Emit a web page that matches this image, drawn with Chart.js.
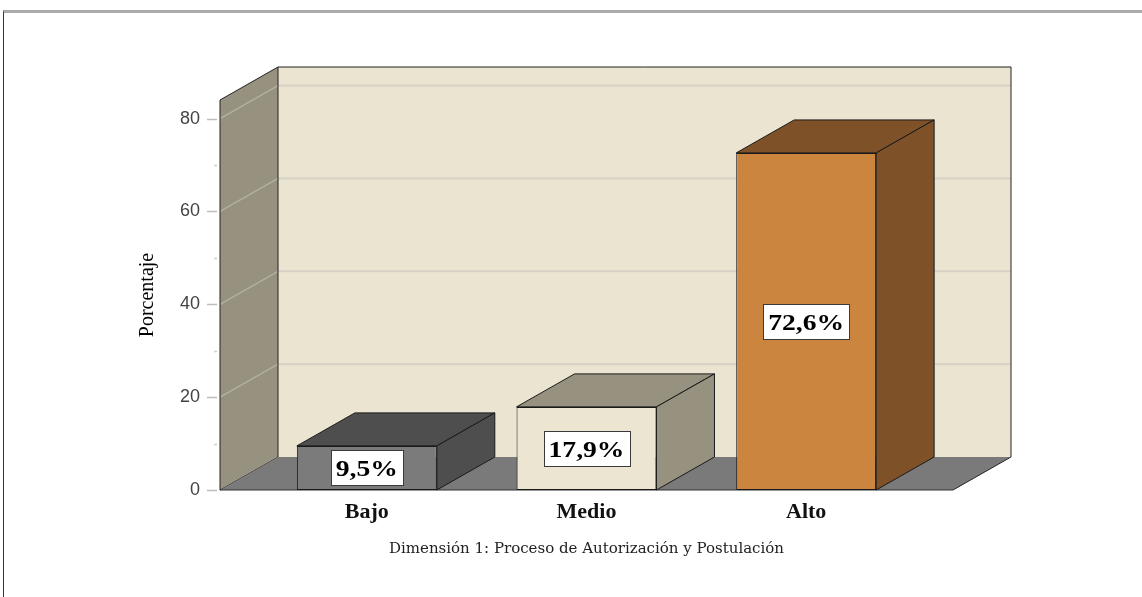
<!DOCTYPE html>
<html>
<head>
<meta charset="utf-8">
<script src="https://cdn.jsdelivr.net/npm/chart.js@4.4.0/dist/chart.umd.min.js"></script>
<style>
  body{margin:0;background:#fff;}
  #wrap{position:relative;width:1142px;height:597px;overflow:hidden;}
  #grafico{position:absolute;left:0;top:0;}
  #marco{position:absolute;left:3px;top:10px;right:-4px;bottom:-4px;border-top:3px solid #ababab;border-left:1px solid #333;}
</style>
</head>
<body>
<div id="wrap">
  <canvas id="grafico" width="1142" height="597"></canvas>
  <div id="marco"></div>
</div>
<script>
// --- DATOS ---
const categorias = ["Bajo", "Medio", "Alto"];
const porcentajes = [9.5, 17.9, 72.6];
const ticksMayores = [0, 20, 40, 60, 80];
const ticksMenores = [10, 30, 50, 70];

// colores (frente / cara superior y lateral)
const coloresFrente = ["#7b7b7b", "#ece5d2", "#cc853f"];
const coloresLado = ["#4e4e4e", "#96927f", "#7e5128"];

// --- GEOMETRIA 3D ---
const PX = 58, PY = -33;   // profundidad
const MARGEN = 37;         // suelo y paredes fuera del area
const ESTIRAR = 1.15;      // ancho de las etiquetas de valor

function poligono(ctx, pts, relleno, borde){
  ctx.beginPath();
  ctx.moveTo(pts[0][0], pts[0][1]);
  for(let i=1;i<pts.length;i++) ctx.lineTo(pts[i][0], pts[i][1]);
  ctx.closePath();
  if(relleno){ ctx.fillStyle = relleno; ctx.fill(); }
  if(borde){ ctx.strokeStyle = borde; ctx.stroke(); }
}

function linea(ctx, x1, y1, x2, y2, color, ancho){
  ctx.beginPath();
  ctx.moveTo(x1, y1);
  ctx.lineTo(x2, y2);
  ctx.strokeStyle = color;
  ctx.lineWidth = ancho;
  ctx.stroke();
}

function formato(v){
  return v.toFixed(1).replace(".", ",") + "%";
}

// --- PLUGIN: paredes, suelo y caras 3D ---
const escena3d = {
  id: "escena3d",
  beforeDatasetsDraw(chart){
    const {ctx, chartArea:a, scales:{y}} = chart;
    const x0 = a.left - MARGEN, x1 = a.right + MARGEN;
    const yb = y.getPixelForValue(0), yt = y.getPixelForValue(y.max);
    ctx.save();
    ctx.lineWidth = 1;

    // pared del fondo
    poligono(ctx, [[x0+PX,yt+PY],[x1+PX,yt+PY],[x1+PX,yb+PY],[x0+PX,yb+PY]], "#ebe4d1", null);
    ticksMayores.forEach(v=>{
      if(v===0) return;
      const py = y.getPixelForValue(v);
      linea(ctx, x0+PX, py+PY, x1+PX, py+PY, "#d6d1c4", 2);
    });
    ctx.lineWidth = 1;
    linea(ctx, x0+PX, yt+PY, x1+PX, yt+PY, "#222", 1);
    linea(ctx, x1+PX, yt+PY, x1+PX, yb+PY, "#222", 1);

    // pared izquierda
    poligono(ctx, [[x0,yt],[x0+PX,yt+PY],[x0+PX,yb+PY],[x0,yb]], "#96927f", null);
    ticksMayores.forEach(v=>{
      const py = y.getPixelForValue(v);
      linea(ctx, x0, py, x0+PX, py+PY, "#b3b0a2", 1.5);
    });
    ctx.lineWidth = 1;
    poligono(ctx, [[x0,yt],[x0+PX,yt+PY],[x0+PX,yb+PY],[x0,yb]], null, "#222");

    // suelo
    poligono(ctx, [[x0,yb],[x1,yb],[x1+PX,yb+PY],[x0+PX,yb+PY]], "#7a7a7a", null);
    linea(ctx, x0, yb, x1, yb, "#333", 1);
    linea(ctx, x1, yb, x1+PX, yb+PY, "#222", 1);

    // marcas del eje
    ticksMayores.forEach(v=>{
      const py = Math.round(y.getPixelForValue(v)) + 0.5;
      linea(ctx, x0-13, py, x0-3, py, "#bdbdbd", 1.5);
    });
    ticksMenores.forEach(v=>{
      const py = Math.round(y.getPixelForValue(v)) + 0.5;
      linea(ctx, x0-6, py, x0-3, py, "#cfcfcf", 1.5);
    });
    ctx.restore();
  },
  afterDatasetsDraw(chart){
    const {ctx} = chart;
    const meta = chart.getDatasetMeta(0);
    ctx.save();
    ctx.lineWidth = 1;
    meta.data.forEach((barra, i)=>{
      const {x, y:arriba, base, width} = barra.getProps(["x","y","base","width"], true);
      const l = x - width/2, r = x + width/2;
      // cara superior y lateral
      poligono(ctx, [[l,arriba],[r,arriba],[r+PX,arriba+PY],[l+PX,arriba+PY]], coloresLado[i], "#1a1a1a");
      poligono(ctx, [[r,arriba],[r+PX,arriba+PY],[r+PX,base+PY],[r,base]], coloresLado[i], "#1a1a1a");

      // etiqueta de valor
      const texto = formato(porcentajes[i]);
      const cx = x, cy = (arriba + base) / 2;
      ctx.font = 'bold 24px "Liberation Serif"';
      const bw = ctx.measureText(texto).width * ESTIRAR + 10, bh = 35;
      ctx.fillStyle = "#fff";
      ctx.fillRect(Math.round(cx-bw/2)+0.5, Math.round(cy-bh/2)+0.5, Math.round(bw), bh);
      ctx.strokeStyle = "#3a3a3a";
      ctx.strokeRect(Math.round(cx-bw/2)+0.5, Math.round(cy-bh/2)+0.5, Math.round(bw), bh);
      ctx.save();
      ctx.translate(cx, cy + 2);
      ctx.scale(ESTIRAR, 1);
      ctx.fillStyle = "#000";
      ctx.textAlign = "center";
      ctx.textBaseline = "middle";
      ctx.fillText(texto, 0, 0);
      ctx.restore();
    });
    ctx.restore();
  }
};

// --- GRAFICO ---
new Chart(document.getElementById("grafico"), {
  type: "bar",
  data: {
    labels: categorias,
    datasets: [{
      data: porcentajes,
      backgroundColor: coloresFrente,
      borderColor: "#1a1a1a",
      borderWidth: 1,
      borderSkipped: false,
      barPercentage: 0.637,
      categoryPercentage: 1
    }]
  },
  options: {
    responsive: false,
    animation: false,
    layout: {padding: {left: 136, right: 226, top: 100, bottom: 0}},
    plugins: {legend: {display: false}, tooltip: {enabled: false}},
    scales: {
      x: {
        afterFit: s => { s.height = 107; },
        grid: {display: false, drawTicks: false},
        border: {display: false},
        ticks: {padding: 9, color: "#111", font: {family: "Liberation Serif", size: 22, weight: "bold"}},
        title: {
          display: true,
          text: "Dimensión 1: Proceso de Autorización y Postulación",
          color: "#222",
          font: {family: "DejaVu Serif", size: 15},
          padding: {top: 0, bottom: 39}
        }
      },
      y: {
        min: 0,
        max: 84,
        afterFit: s => { s.width = 121; },
        afterBuildTicks: s => { s.ticks = ticksMayores.map(v => ({value: v})); },
        grid: {display: false, drawTicks: false},
        border: {display: false},
        ticks: {
          padding: 57,
          color: "#444",
          font: {family: "Liberation Sans", size: 18}
        },
        title: {
          display: true,
          text: "Porcentaje",
          color: "#000",
          font: {family: "Liberation Serif", size: 20},
          padding: {top: 0, bottom: 0}
        }
      }
    }
  },
  plugins: [escena3d]
});
</script>
</body>
</html>
